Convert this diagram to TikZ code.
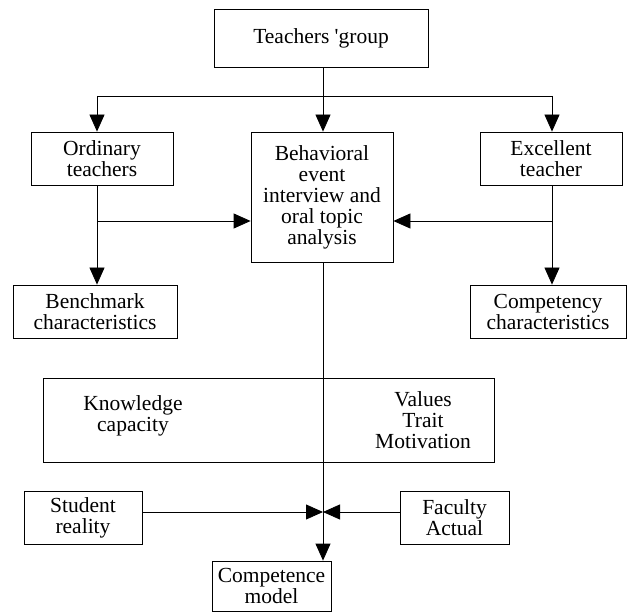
\documentclass[tikz,border=0pt]{standalone}
\usepackage{fontspec}
\setmainfont{Liberation Serif}
\usetikzlibrary{arrows.meta}
\begin{document}
\begin{tikzpicture}[x=1pt,y=-1pt,
  box/.style={draw,line width=0.8pt,inner sep=0pt,align=center,font=\fontsize{21.5}{21}\selectfont},
  txt/.style={inner sep=0pt,align=center,font=\fontsize{21.5}{21}\selectfont},
  ln/.style={line width=0.8pt},
  arr/.style={line width=0.8pt,-{Triangle[length=17pt,width=15pt]}}]
\useasboundingbox (0,0) rectangle (627,612);
\node[box,minimum width=214pt,minimum height=58pt] (group) at (321,38) {Teachers \textquotesingle group};
\node[box,minimum width=142pt,minimum height=53pt] (ord) at (102,158.5) {Ordinary\\teachers};
\node[box,minimum width=142pt,minimum height=130pt] (beh) at (322,197) {Behavioral\\event\\interview and\\oral topic\\analysis};
\node[box,minimum width=142pt,minimum height=53pt] (exc) at (551,158.5) {Excellent\\teacher};
\node[box,minimum width=164pt,minimum height=53pt] (bench) at (95,311.5) {Benchmark\\characteristics};
\node[box,minimum width=156pt,minimum height=53pt] (comp) at (548,311.5) {Competency\\characteristics};
\node[box,minimum width=451pt,minimum height=84pt] (big) at (268.5,420) {};
\node[txt] (know) at (133,416) {Knowledge\\capacity};
\node[txt] (val) at (423,420) {Values\\Trait\\Motivation};
\node[box,minimum width=118pt,minimum height=53pt] (stu) at (83,517.5) {Student\\reality};
\node[box,minimum width=109pt,minimum height=53pt] (fac) at (454.5,517.5) {Faculty\\Actual};
\node[box,minimum width=119pt,minimum height=50pt] (cm) at (271.5,586) {Competence\\model};
% junctions
\coordinate (jc) at (323,96);
\coordinate (jl) at (97,96);
\coordinate (jr) at (552,96);
\coordinate (ol) at (97,221);
\coordinate (er) at (552,221);
\coordinate (mid) at (323,512);
% top distribution
\draw[ln] (group.south -| jc) -- (jc);
\draw[ln] (jl) -- (jr);
\draw[arr] (jc) -- (jc |- beh.north);
\draw[arr] (jl) -- (jl |- ord.north);
\draw[arr] (jr) -- (jr |- exc.north);
% side columns
\draw[arr] (ord.south -| jl) -- (jl |- bench.north);
\draw[arr] (exc.south -| jr) -- (jr |- comp.north);
\draw[arr] (ol) -- (ol -| beh.west);
\draw[arr] (er) -- (er -| beh.east);
% center column
\draw[arr] (beh.south -| jc) -- (jc |- cm.north);
\draw[arr] (stu.east |- mid) -- (mid);
\draw[arr] (fac.west |- mid) -- (mid);
\end{tikzpicture}
\end{document}
